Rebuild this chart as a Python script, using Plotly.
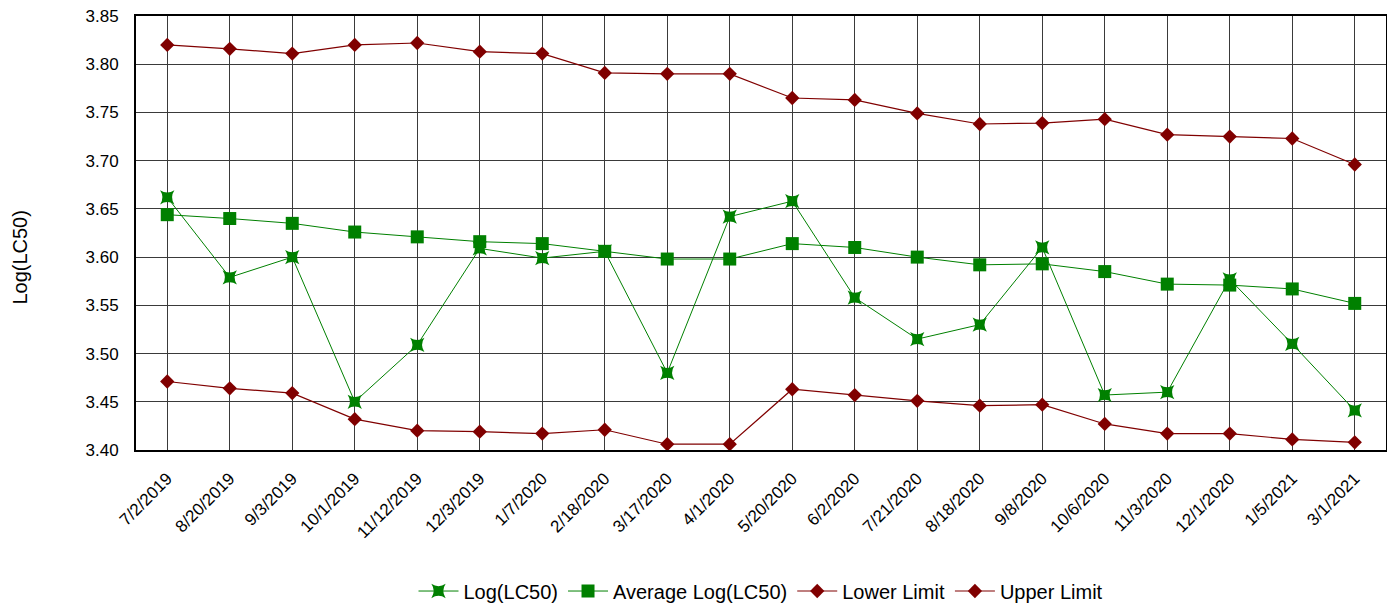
import plotly.graph_objects as go

dates = ["7/2/2019", "8/20/2019", "9/3/2019", "10/1/2019", "11/12/2019", "12/3/2019",
         "1/7/2020", "2/18/2020", "3/17/2020", "4/1/2020", "5/20/2020", "6/2/2020",
         "7/21/2020", "8/18/2020", "9/8/2020", "10/6/2020", "11/3/2020", "12/1/2020",
         "1/5/2021", "3/1/2021"]

log_lc50 = [3.662, 3.579, 3.600, 3.450, 3.509, 3.609, 3.599, 3.606, 3.480, 3.642,
            3.658, 3.558, 3.515, 3.530, 3.610, 3.457, 3.460, 3.577, 3.510, 3.441]
avg_log_lc50 = [3.644, 3.640, 3.635, 3.626, 3.621, 3.616, 3.614, 3.606, 3.598, 3.598,
                3.614, 3.610, 3.600, 3.592, 3.593, 3.585, 3.572, 3.571, 3.567, 3.552]
lower_limit = [3.471, 3.464, 3.459, 3.432, 3.420, 3.419, 3.417, 3.421, 3.406, 3.406,
               3.463, 3.457, 3.451, 3.446, 3.447, 3.427, 3.417, 3.417, 3.411, 3.408]
upper_limit = [3.820, 3.816, 3.811, 3.820, 3.822, 3.813, 3.811, 3.791, 3.790, 3.790,
               3.765, 3.763, 3.749, 3.738, 3.739, 3.743, 3.727, 3.725, 3.723, 3.696]

y_ticks = [3.40, 3.45, 3.50, 3.55, 3.60, 3.65, 3.70, 3.75, 3.80, 3.85]

GREEN = "#008000"
MAROON = "#800000"

fig = go.Figure()
fig.add_trace(go.Scatter(x=dates, y=log_lc50, name="Log(LC50)", mode="lines+markers",
                         line=dict(color=GREEN, width=1),
                         marker=dict(symbol="star-square", size=13, color=GREEN)))
fig.add_trace(go.Scatter(x=dates, y=avg_log_lc50, name="Average Log(LC50)", mode="lines+markers",
                         line=dict(color=GREEN, width=1),
                         marker=dict(symbol="square", size=13, color=GREEN)))
fig.add_trace(go.Scatter(x=dates, y=lower_limit, name="Lower Limit", mode="lines+markers",
                         line=dict(color=MAROON, width=1.2),
                         marker=dict(symbol="diamond", size=11, color=MAROON)))
fig.add_trace(go.Scatter(x=dates, y=upper_limit, name="Upper Limit", mode="lines+markers",
                         line=dict(color=MAROON, width=1.2),
                         marker=dict(symbol="diamond", size=11, color=MAROON)))

fig.add_annotation(text="Log(LC50)", textangle=-90, xref="paper", yref="paper",
                   x=-0.093, y=0.445, xanchor="center", yanchor="middle",
                   showarrow=False, font=dict(size=20))

fig.update_layout(
    width=1387, height=611,
    margin=dict(l=136, r=1, t=16, b=161),
    paper_bgcolor="white", plot_bgcolor="white",
    font=dict(family="Liberation Sans, Arial, sans-serif", size=17, color="black"),
    showlegend=True,
    legend=dict(orientation="h", x=0.5, xanchor="center", y=-0.28, yanchor="top",
                traceorder="normal", font=dict(size=20), itemwidth=40),
    xaxis=dict(type="category", categoryorder="array", categoryarray=dates,
               range=[-0.5, len(dates) - 0.5], tickangle=-45, automargin=False,
               showgrid=True, gridcolor="#3a3a3a", gridwidth=1,
               showline=True, linecolor="black", linewidth=2, mirror=True,
               ticks="", tickfont=dict(size=17), ticklabelstandoff=10),
    yaxis=dict(range=[3.40, 3.85], tickvals=y_ticks, tickformat=".2f", automargin=False,
               showgrid=True, gridcolor="#3a3a3a", gridwidth=1,
               showline=True, linecolor="black", linewidth=2, mirror=True,
               zeroline=False, ticks="", tickfont=dict(size=17), ticklabelstandoff=12),
)

fig.write_html("out.html")
